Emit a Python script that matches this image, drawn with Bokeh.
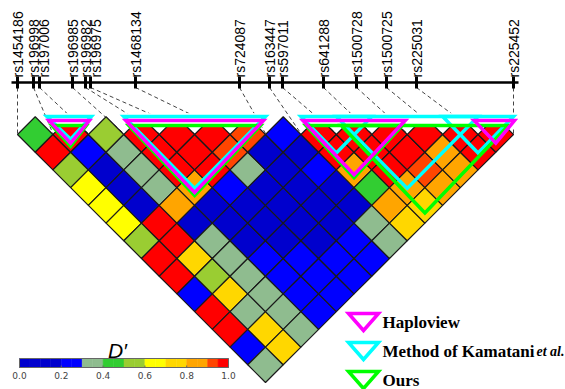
import numpy as np
from bokeh.plotting import figure
from bokeh.models import Range1d
from bokeh.embed import file_html
from bokeh.resources import INLINE
from bokeh.core.properties import value

# ---------------- data ----------------
snp_names = ["rs1454186", "rs196998", "rs197006", "rs196985", "rs196982", "rs196975",
             "rs1468134", "rs724087", "rs163447", "rs597011", "rs641288", "rs1500728",
             "rs1500725", "rs225031", "rs225452"]
snp_pos_kb = [0, 16, 22, 55, 68, 73, 118, 222, 252, 265, 306, 339, 369, 399, 496]

# pairwise D' (row i holds pairs (i, j) for j = i+1 .. 14)
dprime_rows = [
    [0.45, 0.98, 0.55, 0.65, 0.65, 0.65, 0.55, 0.98, 0.98, 0.25, 0.98, 0.98, 0.25, 0.35],
    [0.98, 0.25, 0.10, 0.10, 0.10, 0.98, 0.98, 0.75, 0.55, 0.75, 0.35, 0.75, 0.75],
    [0.55, 0.35, 0.35, 0.35, 0.85, 0.10, 0.35, 0.35, 0.35, 0.35, 0.35, 0.35],
    [0.98, 0.98, 0.98, 0.85, 0.10, 0.10, 0.10, 0.25, 0.25, 0.25, 0.25],
    [0.98, 0.98, 0.98, 0.25, 0.10, 0.10, 0.10, 0.25, 0.25, 0.25],
    [0.98, 0.92, 0.35, 0.10, 0.10, 0.10, 0.10, 0.25, 0.25],
    [0.92, 0.10, 0.10, 0.10, 0.10, 0.10, 0.25, 0.25],
    [0.25, 0.10, 0.25, 0.10, 0.10, 0.35, 0.35],
    [0.98, 0.98, 0.85, 0.45, 0.85, 0.75],
    [0.98, 0.98, 0.98, 0.85, 0.75],
    [0.98, 0.98, 0.92, 0.85],
    [0.98, 0.85, 0.85],
    [0.98, 0.98],
    [0.98],
]

blocks_haploview = [(1, 2), (3, 7), (8, 11), (13, 14)]
blocks_kamatani = [(1, 2), (3, 7), (8, 10), (9, 13), (12, 14)]
blocks_ours = [(1, 2), (3, 7), (8, 11), (9, 14)]

legend_labels = ["Haploview", "Method of Kamatani ", "Ours"]
legend_italic_suffix = "et al."
cbar_ticks = [0.0, 0.2, 0.4, 0.6, 0.8, 1.0]
cbar_title = "D′"

# ---------------- styles / layout ----------------
W, H = 565, 389
X0, X1 = 17.0, 513.0          # triangle left / right corners
ROW_Y = 134.0                 # centre line of first row of diamonds
AXIS_Y = 82.0
CB_X0, CB_X1, CB_Y0, CB_Y1 = 19.0, 228.0, 358.0, 367.0

def dcolor(v):
    if v < 0.2: return "#0000CD"
    if v < 0.3: return "#0000FF"
    if v < 0.4: return "#8FBC8F"
    if v < 0.5: return "#32CD32"
    if v < 0.6: return "#9ACD32"
    if v < 0.7: return "#FFFF00"
    if v < 0.8: return "#FFD700"
    if v < 0.9: return "#FFA500"
    if v < 0.95: return "#FF4500"
    return "#FF0000"

n = len(snp_names)
h = (X1 - X0) / (2 * (n - 1))
col_x = [X0 + 2 * h * k for k in range(n)]

p = figure(width=W, height=H, x_range=Range1d(0, W), y_range=Range1d(H, 0),
           output_backend="svg", toolbar_location=None, x_axis_type=None, y_axis_type=None,
           min_border=0, min_border_left=0, min_border_right=0, min_border_top=0, min_border_bottom=0)
p.grid.visible = False
p.outline_line_color = None
p.background_fill_color = "white"
p.border_fill_color = "white"

# ---- SNP map ----
kb0, kb1 = snp_pos_kb[0], snp_pos_kb[-1]
tick_x = [X0 + (kb - kb0) / (kb1 - kb0) * (X1 - X0) for kb in snp_pos_kb]

# dashed connectors
p.segment(x0=tick_x, y0=[AXIS_Y + 5] * n, x1=col_x, y1=[ROW_Y - 1] * n,
          line_color="#444444", line_width=1, line_dash="4 3")

p.line([tick_x[0] - 6, tick_x[-1] + 5], [AXIS_Y, AXIS_Y], line_color="black", line_width=2.5)
p.segment(x0=tick_x, y0=[AXIS_Y - 6] * n, x1=tick_x, y1=[AXIS_Y + 6] * n,
          line_color="black", line_width=3)

lab_x = []
for t in tick_x:
    if lab_x and t < lab_x[-1] + 10.5:
        lab_x.append(lab_x[-1] + 10.5)
    else:
        lab_x.append(t)
p.text(x=lab_x, y=[AXIS_Y - 5] * n, text=snp_names, angle=np.pi / 2,
       text_align="left", text_baseline="middle", text_font=value("Liberation Sans"),
       text_font_size="14px", text_color="black")

# ---- LD diamonds ----
xs, ys, cols = [], [], []
for i, row in enumerate(dprime_rows):
    for k, v in enumerate(row):
        j = i + 1 + k
        cx = X0 + h * (i + j)
        cy = ROW_Y + h * (j - i - 1)
        xs.append([cx - h, cx, cx + h, cx])
        ys.append([cy, cy - h, cy, cy + h])
        cols.append(dcolor(v))
p.patches(xs=xs, ys=ys, fill_color=cols, line_color="#1a1a1a", line_width=1.2)

# ---- block triangles ----
methods = [
    (blocks_kamatani, "#00FFFF", 116.0, 0.0, 1.0),
    (blocks_ours, "#00FF00", 125.0, 5.0, 4.0),
    (blocks_haploview, "#FF00FF", 120.0, 2.0, 3.0),
]
for blocks, _, _, _, _ in methods:
    for a, b in blocks:
        p.quad(left=col_x[a] - 3, right=col_x[b] + 3, top=113, bottom=126.5,
               fill_color="white", line_color=None)
for blocks, colr, ty, inset, extra in methods:
    txs, tys = [], []
    for a, b in blocks:
        xa, xb = col_x[a] + inset, col_x[b] - inset
        apex_x, apex_y = (xa + xb) / 2, ty + (xb - xa) / 2 + extra
        if b - a == 1:          # two-marker blocks are drawn a little wider
            xa, xb, apex_y = xa - 6, xb + 3, apex_y + 4
        txs.append([xa, xb, apex_x])
        tys.append([ty, ty, apex_y])
    p.patches(xs=txs, ys=tys, fill_alpha=0, line_color=colr, line_width=3.5,
              line_join="miter")

# ---- colour bar ----
edges = np.linspace(0, 1, 21)
cw = CB_X1 - CB_X0
seg_cols = [dcolor((edges[k] + edges[k + 1]) / 2) for k in range(20)]
p.quad(left=[CB_X0 + e * cw for e in edges[:-1]], right=[CB_X0 + e * cw for e in edges[1:]],
       top=CB_Y0, bottom=CB_Y1, fill_color=seg_cols, line_color=seg_cols, line_width=0.5)
p.quad(left=[CB_X0], right=[CB_X1], top=[CB_Y0], bottom=[CB_Y1], fill_alpha=0,
       line_color="#666666", line_width=1)
p.segment(x0=[CB_X0 + t * cw for t in cbar_ticks], y0=[CB_Y1 - 2] * len(cbar_ticks),
          x1=[CB_X0 + t * cw for t in cbar_ticks], y1=[CB_Y1] * len(cbar_ticks),
          line_color="#666666", line_width=1)
p.text(x=[CB_X0 + t * cw for t in cbar_ticks], y=[CB_Y1 + 8] * len(cbar_ticks),
       text=["%.1f" % t for t in cbar_ticks], text_align="center", text_baseline="middle",
       text_font=value("DejaVu Sans"), text_font_size="9px", text_color="#444444")
p.text(x=[117], y=[350], text=[cbar_title], text_align="center",
       text_baseline="alphabetic", text_font=value("Liberation Sans"),
       text_font_style="italic", text_font_size="21px", text_color="black")

# ---- legend ----
leg_cols = ["#FF00FF", "#00FFFF", "#00FF00"]
leg_top = [313, 342, 371]
LX = 363
p.patches(xs=[[LX - 15, LX + 15, LX] for _ in leg_top],
          ys=[[t, t, t + 17] for t in leg_top], fill_alpha=0, line_color=leg_cols,
          line_width=3.5, line_join="miter")
p.text(x=[382] * 3, y=[t + 9 for t in leg_top], text=legend_labels, text_align="left",
       text_baseline="middle", text_font=value("Liberation Serif"), text_font_style="bold",
       text_font_size="17px", text_color="black")
p.text(x=[536], y=[leg_top[1] + 9], text=[legend_italic_suffix], text_align="left",
       text_baseline="middle", text_font=value("Liberation Serif"),
       text_font_style="bold italic", text_font_size="14px", text_color="black")

open("out.html", "w").write(file_html(p, INLINE))
